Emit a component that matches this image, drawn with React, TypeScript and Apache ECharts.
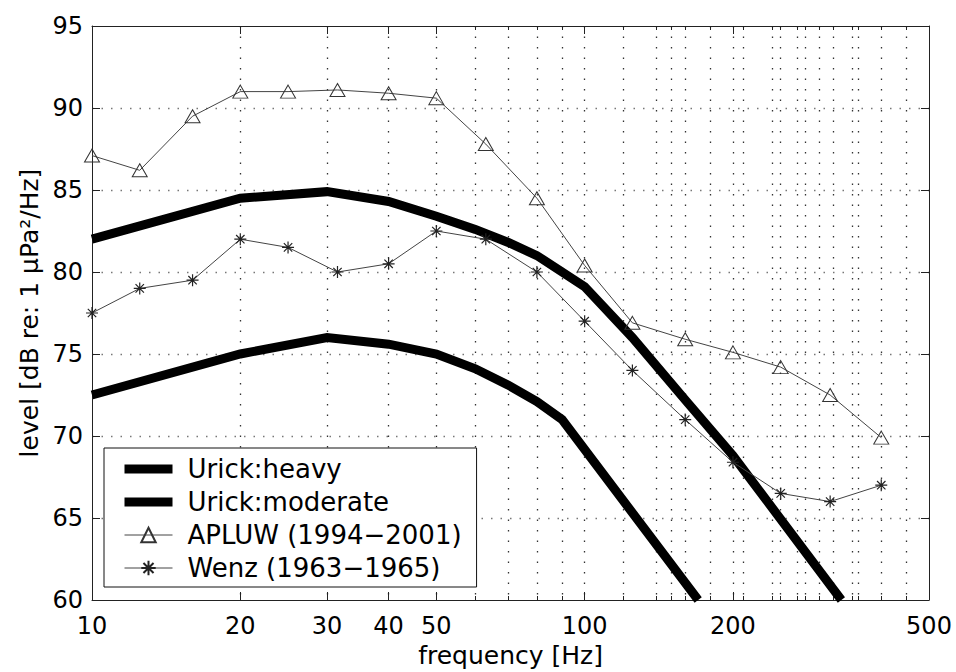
import React, { useEffect, useRef } from "react";
import * as echarts from "echarts";

// 1/3-octave band centre frequencies (Hz) of the measured series
const bandFreqs = [10, 12.5, 16, 20, 25, 31.5, 40, 50, 63, 80, 100, 125, 160, 200, 250, 315, 400];
// APLUW (1994-2001) levels, dB re 1 uPa^2/Hz
const apluwLevels = [87.1, 86.2, 89.5, 91.0, 91.0, 91.1, 90.9, 90.6, 87.8, 84.5, 80.4, 76.9, 75.9, 75.1, 74.2, 72.5, 69.9];
// Wenz (1963-1965) levels
const wenzLevels = [77.5, 79.0, 79.5, 82.0, 81.5, 80.0, 80.5, 82.5, 82.0, 80.0, 77.0, 74.0, 71.0, 68.4, 66.5, 66.0, 67.0];

// Urick: heavy shipping
const heavyFreqs = [10, 20, 30, 40, 50, 60, 70, 80, 100, 125, 160, 200, 332];
const heavyLevels = [82.0, 84.5, 84.9, 84.3, 83.4, 82.6, 81.8, 81.0, 79.1, 76.0, 72.2, 68.8, 60.0];
// Urick: moderate shipping
const moderateFreqs = [10, 20, 30, 40, 50, 60, 70, 80, 90, 170];
const moderateLevels = [72.5, 75.0, 76.0, 75.6, 75.0, 74.1, 73.1, 72.1, 71.0, 60.0];

// axis ticks
const xTickLabels = [10, 20, 30, 40, 50, 100, 200, 500];
const xMajorTicks = [20, 30, 40, 50, 100, 200];
const xGridValues = [20, 30, 40, 50, 60, 70, 80, 90, 100, 120, 140, 150, 160, 180, 200, 210, 240, 250, 270, 280, 300, 320, 350, 360, 400, 450];

const seriesNames = ["Urick:heavy", "Urick:moderate", "APLUW (1994\u22122001)", "Wenz (1963\u22121965)"];

const FONT = "DejaVu Sans";
const AXIS_COLOR = "#222";
const ASTERISK = "path://M5,0L5,10M0,5L10,5M1.5,1.5L8.5,8.5M1.5,8.5L8.5,1.5";

const pairs = (xs: number[], ys: number[]) => xs.map((x, i) => [x, ys[i]]);

export default function App() {
  const ref = useRef<HTMLDivElement>(null);
  useEffect(() => {
    if (!ref.current) return;
    const chart = echarts.init(ref.current, undefined, { renderer: "svg" });
    const logBase = { type: "log" as const, logBase: 10, min: 10, max: 500, gridIndex: 0 };
    const hiddenSymbol = { color: "transparent", borderColor: "transparent", borderWidth: 0, opacity: 0 };
    const option: any = {
      animation: false,
      backgroundColor: "#fff",
      textStyle: { fontFamily: FONT, color: "#000" },
      grid: { left: 92, right: 27, top: 26, bottom: 72, containLabel: false, outerBoundsMode: "none" },
      legend: {
        orient: "vertical",
        left: 104,
        top: 448,
        padding: [8, 15, 6, 16],
        itemGap: 7,
        itemWidth: 48,
        itemHeight: 18,
        backgroundColor: "#fff",
        borderColor: "#111",
        borderWidth: 1,
        borderRadius: 0,
        z: 10,
        lineStyle: { width: "inherit" },
        textStyle: { fontFamily: FONT, fontSize: 26, lineHeight: 26, color: "#000", padding: [0, 0, 0, 10] },
        data: [
          { name: seriesNames[0], itemStyle: hiddenSymbol },
          { name: seriesNames[1], itemStyle: hiddenSymbol },
          { name: seriesNames[2] },
          { name: seriesNames[3] },
        ],
      },
      xAxis: [
        {
          ...logBase,
          position: "bottom",
          name: "frequency [Hz]",
          nameLocation: "middle",
          nameGap: 37,
          nameTextStyle: { fontFamily: FONT, fontSize: 25, color: "#000" },
          axisLine: { show: true, lineStyle: { color: AXIS_COLOR, width: 1 } },
          axisTick: { show: true, inside: true, length: 8, customValues: xMajorTicks, lineStyle: { color: AXIS_COLOR } },
          axisLabel: {
            show: true,
            customValues: xTickLabels,
            margin: 14,
            fontFamily: FONT,
            fontSize: 24,
            color: "#000",
            formatter: (v: number) => String(Math.round(v)),
          },
          splitLine: { show: false },
          minorTick: { show: false },
        },
        {
          ...logBase,
          position: "bottom",
          axisLine: { show: false },
          axisTick: { show: true, inside: true, length: 4, customValues: xGridValues, lineStyle: { color: AXIS_COLOR } },
          axisLabel: { show: false },
          splitLine: { show: true, lineStyle: { color: "#333", width: 1.3, type: [1.5, 9] } },
        },
        {
          ...logBase,
          position: "top",
          axisLine: { show: true, lineStyle: { color: AXIS_COLOR, width: 1 } },
          axisTick: { show: true, inside: true, length: 8, customValues: xMajorTicks, lineStyle: { color: AXIS_COLOR } },
          axisLabel: { show: false },
          splitLine: { show: false },
        },
        {
          ...logBase,
          position: "top",
          axisLine: { show: false },
          axisTick: { show: true, inside: true, length: 4, customValues: xGridValues, lineStyle: { color: AXIS_COLOR } },
          axisLabel: { show: false },
          splitLine: { show: false },
        },
      ],
      yAxis: [
        {
          type: "value",
          min: 60,
          max: 95,
          interval: 5,
          position: "left",
          name: "level [dB re: 1 \u03bcPa\u00b2/Hz]",
          nameLocation: "middle",
          nameGap: 46,
          nameTextStyle: { fontFamily: FONT, fontSize: 25, color: "#000" },
          axisLine: { show: true, lineStyle: { color: AXIS_COLOR, width: 1 } },
          axisTick: { show: true, inside: true, length: 8, lineStyle: { color: AXIS_COLOR } },
          axisLabel: { margin: 9, fontFamily: FONT, fontSize: 24, color: "#000" },
          splitLine: {
            show: true,
            showMinLine: false,
            showMaxLine: false,
            lineStyle: { color: "#777", width: 1.3, type: [1.5, 8] },
          },
        },
        {
          type: "value",
          min: 60,
          max: 95,
          interval: 5,
          position: "right",
          axisLine: { show: true, lineStyle: { color: AXIS_COLOR, width: 1 } },
          axisTick: { show: true, inside: true, length: 8, lineStyle: { color: AXIS_COLOR } },
          axisLabel: { show: false },
          splitLine: { show: false },
        },
      ],
      series: [
        {
          name: seriesNames[0],
          type: "line",
          xAxisIndex: 0,
          yAxisIndex: 0,
          data: pairs(heavyFreqs, heavyLevels),
          symbol: "none",
          clip: true,
          z: 3,
          itemStyle: { color: "#000" },
          lineStyle: { color: "#000", width: 9, join: "miter", cap: "butt" },
        },
        {
          name: seriesNames[1],
          type: "line",
          xAxisIndex: 0,
          yAxisIndex: 0,
          data: pairs(moderateFreqs, moderateLevels),
          symbol: "none",
          clip: true,
          z: 3,
          itemStyle: { color: "#000" },
          lineStyle: { color: "#000", width: 9, join: "miter", cap: "butt" },
        },
        {
          name: seriesNames[2],
          type: "line",
          xAxisIndex: 0,
          yAxisIndex: 0,
          data: pairs(bandFreqs, apluwLevels),
          symbol: "triangle",
          symbolSize: [15, 13],
          showAllSymbol: true,
          clip: true,
          z: 4,
          itemStyle: { color: "transparent", borderColor: "#333", borderWidth: 1 },
          lineStyle: { color: "#444", width: 1 },
        },
        {
          name: seriesNames[3],
          type: "line",
          xAxisIndex: 0,
          yAxisIndex: 0,
          data: pairs(bandFreqs, wenzLevels),
          symbol: ASTERISK,
          symbolSize: 12,
          showAllSymbol: true,
          clip: true,
          z: 4,
          itemStyle: { color: "transparent", borderColor: "#222", borderWidth: 1.2 },
          lineStyle: { color: "#444", width: 1 },
        },
      ],
    };
    chart.setOption(option);
    return () => chart.dispose();
  }, []);
  return (
    <div
      ref={ref}
      style={{ position: "absolute", left: 0, top: 0, width: 956, height: 672, background: "#fff" }}
    />
  );
}
